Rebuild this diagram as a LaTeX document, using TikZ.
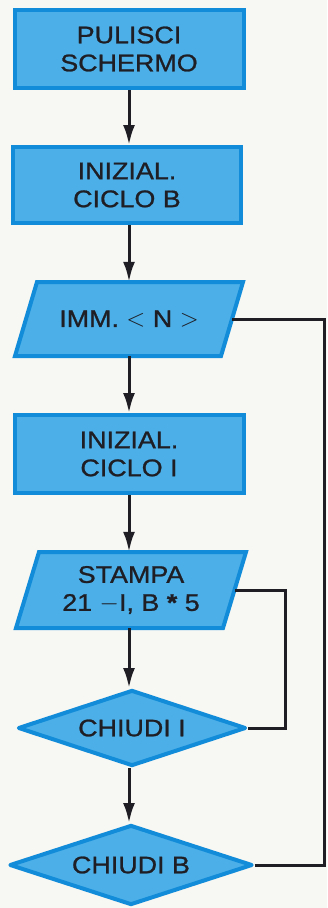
\documentclass[tikz,border=0pt]{standalone}
\usepackage{xcolor}
\usepackage{fontspec}
\usepackage{tikz}
\usetikzlibrary{arrows.meta, shapes.geometric}

\newfontfamily\scrittura[FakeStretch=1.12, FakeBold=1]{Liberation Sans}

\definecolor{sfondo}{RGB}{247,247,243}
\definecolor{riempimento}{RGB}{76,175,232}
\definecolor{bordo}{RGB}{18,140,216}
\definecolor{inchiostro}{RGB}{30,30,36}

\tikzset{
	testo/.style={
		rectangle,
		inner sep=0pt,
		align=center,
		text=inchiostro,
		font=\scrittura\fontsize{24}{28}\selectfont
	},
	parallelo/.style={
		draw=bordo,
		fill=riempimento,
		line width=4pt
	},
	blocco/.style={
		testo,
		parallelo
	},
	decisione/.style={
		blocco,
		diamond,
		aspect=2.9,
		line join=round
	},
	freccia/.style={
		line width=3pt,
		color=inchiostro,
		-{Latex[length=20pt,width=12pt]}
	},
	ritorno/.style={
		line width=3pt,
		color=inchiostro
	}
}

\begin{document}
\begin{tikzpicture}[x=1pt, y=-1pt]
	% Sfondo
	\fill[sfondo] (0,0) rectangle (327,908);
	\useasboundingbox (0,0) rectangle (327,908);
	% Pulisci schermo
	\node[
		blocco,
		minimum width=229pt,
		minimum height=78pt
	] (pulisci) at (129,49) {PULISCI\\SCHERMO};
	% Inizializza ciclo B
	\node[
		blocco,
		minimum width=228pt,
		minimum height=76pt
	] (inizB) at (127,185) {INIZIAL.\\CICLO B};
	% Immissione N
	\coordinate (cImm) at (129,319);
	\draw[parallelo] ([shift={(-92,-37)}]cImm) -- ([shift={(114,-37)}]cImm) --
		([shift={(92,37)}]cImm) -- ([shift={(-114,37)}]cImm) -- cycle;
	\node[
		testo,
		minimum width=206pt,
		minimum height=74pt
	] (imm) at (cImm) {IMM. $<$ N $>$};
	% Inizializza ciclo I
	\node[
		blocco,
		minimum width=229pt,
		minimum height=78pt
	] (inizI) at (129,454) {INIZIAL.\\CICLO I};
	% Stampa
	\coordinate (cStampa) at (131,590);
	\draw[parallelo] ([shift={(-92,-38)}]cStampa) -- ([shift={(115,-38)}]cStampa) --
		([shift={(92,38)}]cStampa) -- ([shift={(-115,38)}]cStampa) -- cycle;
	\node[
		testo,
		minimum width=207pt,
		minimum height=76pt
	] (stampa) at (cStampa) {STAMPA\\21 $-$I, B {\bfseries *} 5};
	% Chiudi I
	\node[
		decisione,
		minimum width=228pt,
		minimum height=76pt
	] (chiudiI) at (132,728) {CHIUDI I};
	% Chiudi B
	\node[
		decisione,
		minimum width=243pt,
		minimum height=80pt
	] (chiudiB) at (131,865) {CHIUDI B};
	% Frecce
	\draw[freccia] (pulisci.south) -- (inizB.north -| pulisci.south);
	\draw[freccia] (inizB.south -| pulisci.south) -- (imm.north -| pulisci.south);
	\draw[freccia] (imm.south -| pulisci.south) -- (inizI.north);
	\draw[freccia] (inizI.south) -- (stampa.north -| inizI.south);
	\draw[freccia] (stampa.south -| inizI.south) -- (chiudiI.north -| inizI.south);
	\draw[freccia] (chiudiI.south -| inizI.south) -- (chiudiB.north -| inizI.south);
	% Ritorno ciclo I
	\draw[ritorno] (chiudiI.east) -- ++(37,0) |- (stampa.east);
	% Ritorno ciclo B
	\draw[ritorno] (chiudiB.east) -- ++(70,0) |- (imm.east);
\end{tikzpicture}
\end{document}
